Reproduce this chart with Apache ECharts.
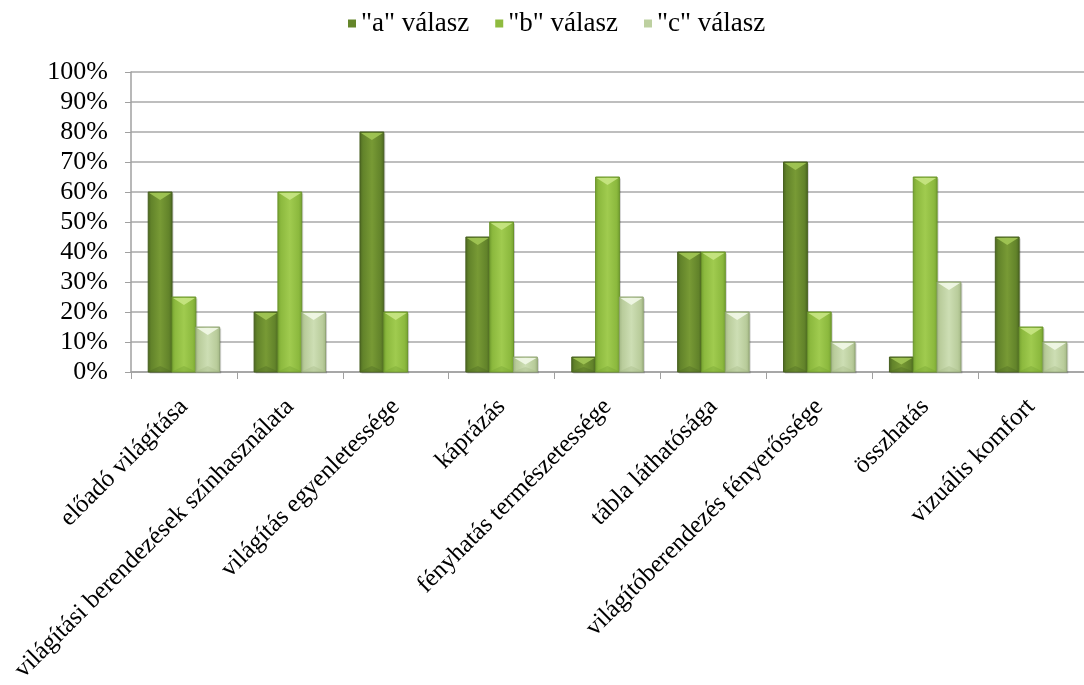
<!DOCTYPE html>
<html>
<head>
<meta charset="utf-8">
<script src="https://cdn.jsdelivr.net/npm/echarts@6/dist/echarts.min.js"></script>
<style>
  html, body { margin: 0; padding: 0; background: #ffffff; }
  #chart { width: 1084px; height: 685px; }
</style>
</head>
<body>
<div id="chart"></div>
<script>
// Survey answers per lighting aspect (percent of respondents)
const categories = [
  'előadó világítása',
  'világítási berendezések színhasználata',
  'világítás egyenletessége',
  'káprázás',
  'fényhatás természetessége',
  'tábla láthatósága',
  'világítóberendezés fényerőssége',
  'összhatás',
  'vizuális komfort'
];
const seriesNames = ['"a" válasz', '"b" válasz', '"c" válasz'];
const answerA = [60, 20, 80, 45, 5, 40, 70, 5, 45];
const answerB = [25, 60, 20, 50, 65, 40, 20, 65, 15];
const answerC = [15, 20, 0, 5, 25, 20, 10, 30, 10];
const yTicks = [0, 10, 20, 30, 40, 50, 60, 70, 80, 90, 100];

const FONT = '"Liberation Serif", "DejaVu Serif", serif';

const palettes = [
  { edge: '#4b6621', mid: '#62832a', light: '#789a35', top: '#a2c655', border: '#465f1e', solid: '#65862b' },
  { edge: '#74a030', mid: '#8cb93e', light: '#a0cb4f', top: '#c8e684', border: '#6a942a', solid: '#8fbb3f' },
  { edge: '#a2b684', mid: '#b9cc9b', light: '#cddeb4', top: '#f2f8e8', border: '#90a474', solid: '#bdd0a0' }
];
const values = [answerA, answerB, answerC];
const groupShare = 0.675; // part of each category taken by the three bars

function bodyFill(p) {
  return new echarts.graphic.LinearGradient(0, 0, 1, 0, [
    { offset: 0, color: p.edge },
    { offset: 0.14, color: p.mid },
    { offset: 0.5, color: p.light },
    { offset: 0.86, color: p.mid },
    { offset: 1, color: p.edge }
  ]);
}

// Beveled column: shaded body with a light chevron on top
function makeRenderer(si) {
  const p = palettes[si];
  return function (params, api) {
    const cat = api.value(0);
    const v = api.value(1);
    const base = api.coord([cat, 0]);
    const top = api.coord([cat, v]);
    const catW = api.size([1, 0])[0];
    const barW = catW * groupShare / 3;
    const x0 = base[0] - 1.5 * barW + si * barW;
    const h = base[1] - top[1];
    if (h <= 0.5) return { type: 'group', children: [] };
    const bev = Math.min(8, h / 2);
    return {
      type: 'group',
      children: [
        {
          type: 'rect',
          shape: { x: x0 + 1.5, y: top[1] + 1.5, width: barW, height: h },
          style: { fill: 'rgba(0,0,0,0.18)' },
          z2: 0
        },
        {
          type: 'rect',
          shape: { x: x0, y: top[1], width: barW, height: h },
          style: { fill: bodyFill(p), stroke: p.border, lineWidth: 1 },
          z2: 1
        },
        {
          type: 'polygon',
          shape: { points: [[x0 + 1, top[1] + 1], [x0 + barW - 1, top[1] + 1], [x0 + barW / 2, top[1] + bev]] },
          style: { fill: p.top, opacity: 0.9 },
          z2: 2
        },
        {
          type: 'polygon',
          shape: { points: [[x0 + 1, base[1] - 1], [x0 + barW - 1, base[1] - 1], [x0 + barW / 2, base[1] - Math.min(6, h / 3)]] },
          style: { fill: p.edge, opacity: 0.35 },
          z2: 2
        }
      ]
    };
  };
}

const chart = echarts.init(document.getElementById('chart'), null, { renderer: 'canvas' });
chart.setOption({
  animation: false,
  backgroundColor: '#ffffff',
  legend: {
    top: 5,
    left: 343,
    itemWidth: 8,
    itemHeight: 8,
    itemGap: 26,
    icon: 'rect',
    textStyle: { fontFamily: FONT, fontSize: 27, color: '#000000' },
    data: seriesNames
  },
  grid: { left: 131, right: -4, top: 72, bottom: 313, containLabel: false },
  xAxis: {
    type: 'category',
    data: categories,
    axisLine: { lineStyle: { color: '#a0a0a0', width: 1.5 } },
    axisTick: { show: true, length: 7, lineStyle: { color: '#a0a0a0' } },
    axisLabel: {
      rotate: 45,
      interval: 0,
      margin: 31,
      fontFamily: FONT,
      fontSize: 25,
      color: '#000000'
    },
    splitLine: { show: false }
  },
  yAxis: {
    type: 'value',
    min: yTicks[0],
    max: yTicks[yTicks.length - 1],
    interval: 10,
    axisLine: { show: true, lineStyle: { color: '#a0a0a0', width: 1.5 } },
    axisTick: { show: true, length: 6, lineStyle: { color: '#a0a0a0' } },
    axisLabel: {
      formatter: '{value}%',
      fontFamily: FONT,
      fontSize: 26,
      color: '#000000',
      margin: 23
    },
    splitLine: { lineStyle: { color: '#a8a8a8', width: 1.5 } }
  },
  series: seriesNames.map((name, i) => ({
    name: name,
    type: 'custom',
    renderItem: makeRenderer(i),
    itemStyle: { color: palettes[i].solid, borderColor: palettes[i].border },
    encode: { x: 0, y: 1 },
    data: values[i].map((v, k) => [k, v])
  }))
});
</script>
</body>
</html>
